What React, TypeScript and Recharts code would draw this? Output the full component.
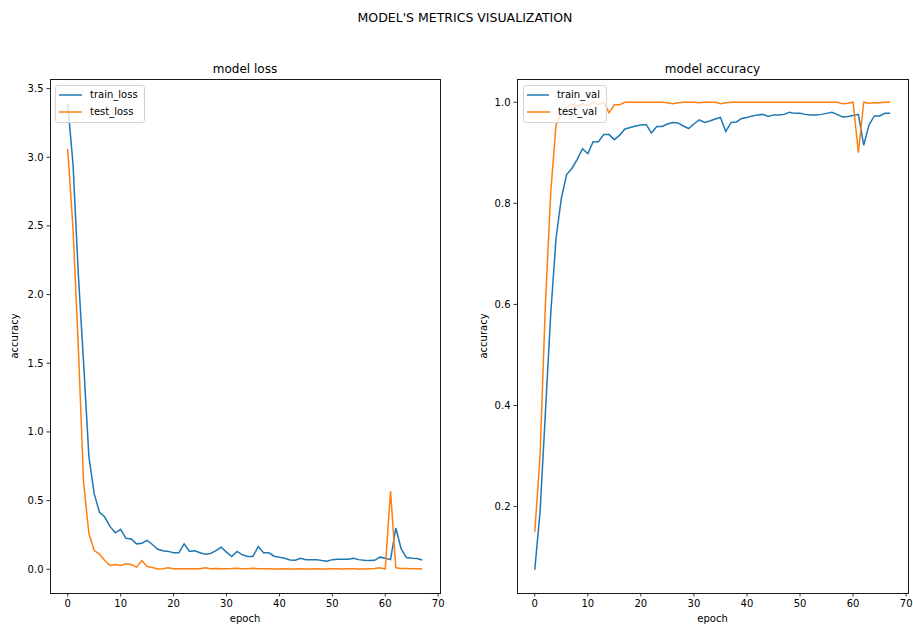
import React from 'react';
import { LineChart, Line, XAxis, YAxis, Legend } from 'recharts';

const epochs = [
  0, 1, 2, 3, 4, 5, 6, 7, 8, 9, 10, 11, 12, 13, 14, 15, 16, 17, 18, 19,
  20, 21, 22, 23, 24, 25, 26, 27, 28, 29, 30, 31, 32, 33, 34, 35, 36, 37, 38, 39,
  40, 41, 42, 43, 44, 45, 46, 47, 48, 49, 50, 51, 52, 53, 54, 55, 56, 57, 58, 59,
  60, 61, 62, 63, 64, 65, 66, 67,
];

const trainLoss = [
  3.39, 2.95, 2.15, 1.5, 0.82, 0.55, 0.415, 0.38, 0.31, 0.265,
  0.29, 0.225, 0.22, 0.185, 0.19, 0.21, 0.18, 0.145, 0.135, 0.13,
  0.12, 0.12, 0.185, 0.13, 0.135, 0.12, 0.11, 0.115, 0.135, 0.16,
  0.125, 0.093, 0.13, 0.105, 0.093, 0.093, 0.165, 0.12, 0.12, 0.095,
  0.087, 0.08, 0.068, 0.065, 0.08, 0.07, 0.07, 0.07, 0.063, 0.058,
  0.07, 0.072, 0.072, 0.072, 0.08, 0.07, 0.065, 0.063, 0.065, 0.088,
  0.08, 0.07, 0.3, 0.15, 0.085, 0.08, 0.078, 0.068,
];

const testLoss = [
  3.06, 2.48, 1.62, 0.63, 0.26, 0.136, 0.11, 0.063, 0.027, 0.034,
  0.027, 0.04, 0.034, 0.015, 0.063, 0.02, 0.012, 0.002, 0.004, 0.01,
  0.004, 0.003, 0.003, 0.003, 0.003, 0.004, 0.01, 0.004, 0.005, 0.004,
  0.003, 0.005, 0.008, 0.004, 0.004, 0.008, 0.004, 0.003, 0.003, 0.002,
  0.002, 0.003, 0.002, 0.002, 0.003, 0.002, 0.002, 0.003, 0.002, 0.002,
  0.003, 0.003, 0.002, 0.003, 0.003, 0.002, 0.002, 0.004, 0.006, 0.01,
  0.001, 0.57, 0.01, 0.006, 0.005, 0.004, 0.004, 0.002,
];

const trainVal = [
  0.075, 0.19, 0.385, 0.58, 0.73, 0.81, 0.857, 0.869, 0.887, 0.908,
  0.898, 0.922, 0.922, 0.936, 0.936, 0.926, 0.935, 0.947, 0.95, 0.953,
  0.955, 0.956, 0.939, 0.952, 0.952, 0.957, 0.96, 0.959, 0.953, 0.948,
  0.957, 0.965, 0.96, 0.963, 0.967, 0.97, 0.942, 0.96, 0.961, 0.968,
  0.97, 0.973, 0.975, 0.976, 0.972, 0.975, 0.975, 0.976, 0.98, 0.978,
  0.978, 0.976, 0.975, 0.975, 0.976, 0.978, 0.98, 0.976, 0.971, 0.972,
  0.974, 0.976, 0.915, 0.955, 0.973, 0.973, 0.978, 0.978,
];

const testVal = [
  0.15, 0.3, 0.6, 0.82, 0.955, 0.977, 0.991, 0.996, 0.992, 0.997,
  0.993, 1.0, 0.995, 1.0, 0.979, 0.995, 0.995, 1.0, 1.0, 1.0,
  1.0, 1.0, 1.0, 1.0, 1.0, 0.999, 0.997, 0.999, 1.0, 1.0,
  1.0, 0.999, 1.0, 1.0, 1.0, 0.997, 0.999, 1.0, 1.0, 1.0,
  1.0, 1.0, 1.0, 1.0, 1.0, 1.0, 1.0, 1.0, 1.0, 1.0,
  1.0, 1.0, 1.0, 1.0, 1.0, 1.0, 1.0, 1.0, 0.997, 0.998,
  1.0, 0.9, 1.0, 0.998, 0.999, 0.999, 1.0, 1.0,
];

const xTicks = [0, 10, 20, 30, 40, 50, 60, 70];
const lossTicks = [0, 0.5, 1.0, 1.5, 2.0, 2.5, 3.0, 3.5];
const accTicks = [0.2, 0.4, 0.6, 0.8, 1.0];

const BLUE = '#1f77b4';
const ORANGE = '#ff7f0e';
const FONT = "'DejaVu Sans', sans-serif";

const lossData = epochs.map((e, i) => ({ epoch: e, train_loss: trainLoss[i], test_loss: testLoss[i] }));
const accData = epochs.map((e, i) => ({ epoch: e, train_val: trainVal[i], test_val: testVal[i] }));

const LegendBox = ({ items }: { items: { name: string; color: string }[] }) => (
  <div
    style={{
      background: 'rgba(255,255,255,0.8)',
      border: '1px solid #d4d4d4',
      borderRadius: 3,
      padding: '1px 6px 2px 3px',
      fontFamily: FONT,
      fontSize: 10,
      color: '#000',
      boxSizing: 'border-box',
    }}
  >
    {items.map((it) => (
      <div key={it.name} style={{ display: 'flex', alignItems: 'center', height: 16.5 }}>
        <svg width={23} height={4} style={{ display: 'block' }}>
          <line x1={0} y1={2} x2={23} y2={2} stroke={it.color} strokeWidth={1.5} />
        </svg>
        <span style={{ marginLeft: 8, lineHeight: 1, whiteSpace: 'nowrap' }}>{it.name}</span>
      </div>
    ))}
  </div>
);

type PanelProps = {
  data: any[];
  keys: string[];
  yDomain: [number, number];
  yTicks: number[];
  width: number;
  marginRight: number;
  legendLeft: number;
  legendWidth: number;
};

const PLOT_TOP = 79;
const PLOT_BOTTOM = 593;
const YAXIS_W = 50;

const Panel = ({ data, keys, yDomain, yTicks, width, marginRight, legendLeft, legendWidth }: PanelProps) => {
  const xDomain: [number, number] = [-3.35, 70.35];
  const tickStyle = { fontSize: 10, fill: '#000', fontFamily: FONT };
  const colors = [BLUE, ORANGE];
  const plotW = width - marginRight - YAXIS_W;
  return (
    <div style={{ position: 'relative', width, height: 626 }}>
      <LineChart width={width} height={626} data={data} margin={{ top: PLOT_TOP, right: marginRight, bottom: 0, left: 0 }}>
        <XAxis
          dataKey="epoch"
          type="number"
          domain={xDomain}
          ticks={xTicks}
          allowDataOverflow
          height={626 - PLOT_BOTTOM}
          tick={tickStyle}
          tickSize={3.5}
          tickMargin={3}
          axisLine={false}
          tickLine={{ stroke: '#000', strokeWidth: 0.8 }}
          interval={0}
        />
        <YAxis
          type="number"
          domain={yDomain}
          ticks={yTicks}
          allowDataOverflow
          width={YAXIS_W}
          tick={tickStyle}
          tickSize={3.5}
          tickMargin={3}
          tickFormatter={(v: number) => v.toFixed(1)}
          axisLine={false}
          tickLine={{ stroke: '#000', strokeWidth: 0.8 }}
          interval={0}
        />
        {keys.map((k, i) => (
          <Line
            key={k}
            dataKey={k}
            name={k}
            type="linear"
            stroke={colors[i]}
            strokeWidth={1.5}
            dot={false}
            activeDot={false}
            isAnimationActive={false}
          />
        ))}
        <Legend
          layout="horizontal"
          verticalAlign="middle"
          align="center"
          wrapperStyle={{ left: legendLeft, top: 85, width: legendWidth, height: 36 }}
          content={() => <LegendBox items={keys.map((k, i) => ({ name: k, color: colors[i] }))} />}
        />
      </LineChart>
      <div
        style={{
          position: 'absolute',
          left: YAXIS_W - 0.5,
          top: PLOT_TOP - 0.5,
          width: plotW + 1,
          height: PLOT_BOTTOM - PLOT_TOP + 1,
          border: '1px solid #1a1a1a',
          boxSizing: 'border-box',
          pointerEvents: 'none',
        }}
      />
    </div>
  );
};

const textStyle: React.CSSProperties = {
  position: 'absolute',
  transform: 'translate(-50%, -50%)',
  fontFamily: FONT,
  lineHeight: 1,
  whiteSpace: 'nowrap',
  color: '#000',
};

export default function App() {
  return (
    <div style={{ position: 'absolute', left: 0, top: 0, width: 913, height: 626, background: '#fff', overflow: 'hidden' }}>
      <div style={{ position: 'absolute', left: 0, top: 0 }}>
        <Panel
          data={lossData}
          keys={['train_loss', 'test_loss']}
          yDomain={[-0.173, 3.57]}
          yTicks={lossTicks}
          width={460}
          marginRight={20}
          legendLeft={55}
          legendWidth={90}
        />
      </div>
      <div style={{ position: 'absolute', left: 467, top: 0 }}>
        <Panel
          data={accData}
          keys={['train_val', 'test_val']}
          yDomain={[0.029, 1.046]}
          yTicks={accTicks}
          width={446}
          marginRight={5}
          legendLeft={56}
          legendWidth={84}
        />
      </div>
      <div style={{ ...textStyle, left: 465, top: 18, fontSize: 12.5 }}>MODEL'S METRICS VISUALIZATION</div>
      <div style={{ ...textStyle, left: 245, top: 69, fontSize: 12 }}>model loss</div>
      <div style={{ ...textStyle, left: 712.5, top: 69, fontSize: 12 }}>model accuracy</div>
      <div style={{ ...textStyle, left: 245, top: 619, fontSize: 10 }}>epoch</div>
      <div style={{ ...textStyle, left: 712.5, top: 619, fontSize: 10 }}>epoch</div>
      <div style={{ ...textStyle, left: 15, top: 336, fontSize: 10, transform: 'translate(-50%, -50%) rotate(-90deg)' }}>accuracy</div>
      <div style={{ ...textStyle, left: 484, top: 336, fontSize: 10, transform: 'translate(-50%, -50%) rotate(-90deg)' }}>accuracy</div>
    </div>
  );
}
